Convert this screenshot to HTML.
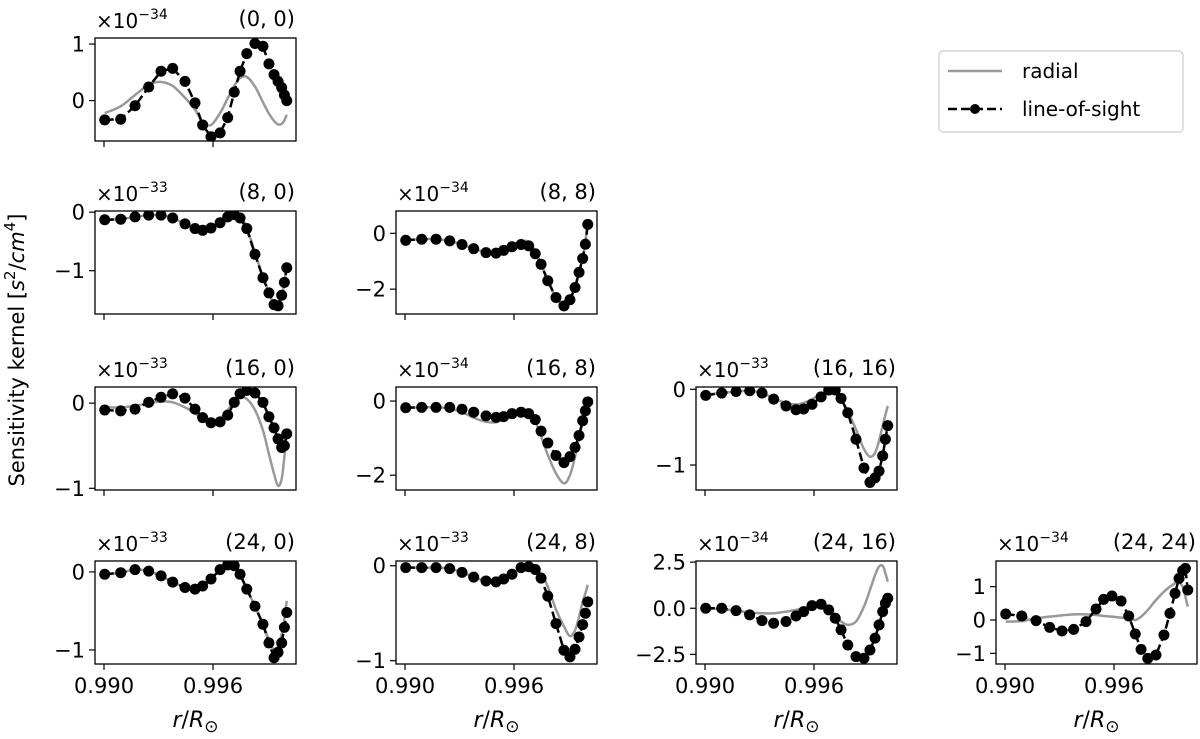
<!DOCTYPE html>
<html><head><meta charset="utf-8"><style>
html,body{margin:0;padding:0;background:#fff}
svg{display:block;font-family:"DejaVu Sans","Liberation Sans",sans-serif}
</style></head><body>
<svg id="fig" width="1200" height="739" viewBox="0 0 1200 739" xmlns="http://www.w3.org/2000/svg">
<text transform="translate(24,350) rotate(-90)" text-anchor="middle" font-size="21" fill="#000">Sensitivity kernel [<tspan font-style="italic">s</tspan><tspan font-size="15" dy="-9">2</tspan><tspan dy="9">/</tspan><tspan font-style="italic">cm</tspan><tspan font-size="15" dy="-9">4</tspan><tspan dy="9">]</tspan></text>
<g>
<rect x="939" y="51" width="244" height="81" rx="4" fill="#fff" stroke="#ccc" stroke-width="1.2"/>
<line x1="948" y1="71" x2="1002" y2="71" stroke="#999" stroke-width="2.5"/>
<text x="1022" y="78" font-size="20">radial</text>
<line x1="948" y1="109" x2="1002" y2="109" stroke="#000" stroke-width="2.5" stroke-dasharray="9,4"/>
<circle cx="975" cy="109" r="5" fill="#000"/>
<text x="1022" y="116" font-size="20">line-of-sight</text>
</g>
</svg>
<script>
// shared radius grid (r/R_sun)
const rGrid = [0.99004,0.99092,0.99171,0.99246,0.99314,0.99378,0.99446,0.99501,0.99543,0.99589,0.99639,0.99681,0.99717,0.99749,0.99786,0.99831,0.99875,0.99908,0.99936,0.99958,0.99978,0.99993,1.00006];
const xTicks = [0.990, 0.996];
const xTickLabels = ["0.990", "0.996"];
const panelTitles = ["(0, 0)","(8, 0)","(8, 8)","(16, 0)","(16, 8)","(16, 16)","(24, 0)","(24, 8)","(24, 16)","(24, 24)"];
const panelExp = ["34","33","34","33","34","33","33","33","34","34"];
const los00 = [-0.34,-0.33,-0.09,0.24,0.52,0.57,0.34,-0.04,-0.43,-0.64,-0.57,-0.3,0.15,0.52,0.83,1.01,0.96,0.65,0.46,0.34,0.23,0.1,0.0];
const rad00 = [-0.22,-0.1,0.1,0.28,0.33,0.26,0.05,-0.16,-0.38,-0.43,-0.22,0.04,0.26,0.4,0.42,0.25,-0.03,-0.23,-0.36,-0.42,-0.41,-0.35,-0.25];
const los80 = [-0.13,-0.12,-0.08,-0.05,-0.05,-0.1,-0.2,-0.28,-0.31,-0.27,-0.18,-0.08,-0.04,-0.1,-0.28,-0.72,-1.12,-1.38,-1.58,-1.6,-1.42,-1.2,-0.95];
const rad80 = [-0.13,-0.12,-0.08,-0.05,-0.05,-0.1,-0.2,-0.28,-0.31,-0.27,-0.18,-0.06,0.0,-0.06,-0.26,-0.7,-1.1,-1.38,-1.58,-1.6,-1.42,-1.2,-0.9];
const los88 = [-0.25,-0.21,-0.21,-0.27,-0.4,-0.55,-0.69,-0.71,-0.61,-0.48,-0.4,-0.45,-0.73,-1.11,-1.7,-2.3,-2.6,-2.38,-1.94,-1.4,-0.9,-0.39,0.32];
const rad88 = [-0.25,-0.21,-0.21,-0.27,-0.4,-0.55,-0.68,-0.7,-0.58,-0.42,-0.3,-0.3,-0.65,-1.1,-1.7,-2.3,-2.6,-2.38,-1.94,-1.4,-0.88,-0.3,0.45];
const los160 = [-0.08,-0.09,-0.07,0.01,0.07,0.11,0.06,-0.07,-0.17,-0.23,-0.22,-0.14,0.01,0.11,0.15,0.12,0.01,-0.16,-0.29,-0.42,-0.52,-0.5,-0.36];
const rad160 = [-0.05,-0.05,-0.03,0.0,0.02,0.01,-0.05,-0.12,-0.19,-0.22,-0.18,-0.08,0.02,0.07,0.05,-0.08,-0.32,-0.6,-0.83,-0.97,-0.89,-0.63,-0.32];
const los168 = [-0.18,-0.17,-0.17,-0.17,-0.22,-0.3,-0.4,-0.44,-0.42,-0.34,-0.3,-0.34,-0.5,-0.81,-1.13,-1.47,-1.66,-1.5,-1.25,-0.93,-0.53,-0.26,-0.02];
const rad168 = [-0.18,-0.17,-0.17,-0.2,-0.3,-0.45,-0.56,-0.57,-0.48,-0.36,-0.3,-0.33,-0.55,-0.95,-1.45,-1.95,-2.22,-2.0,-1.5,-1.0,-0.55,-0.26,-0.02];
const los1616 = [-0.08,-0.05,-0.03,-0.02,-0.05,-0.13,-0.22,-0.27,-0.26,-0.2,-0.1,-0.01,-0.01,-0.12,-0.31,-0.66,-1.04,-1.23,-1.17,-1.08,-0.88,-0.66,-0.48];
const rad1616 = [-0.07,-0.05,-0.03,-0.02,-0.05,-0.12,-0.18,-0.2,-0.18,-0.13,-0.07,-0.05,-0.06,-0.13,-0.29,-0.53,-0.79,-0.89,-0.84,-0.68,-0.48,-0.34,-0.22];
const los240 = [-0.03,-0.01,0.03,0.01,-0.05,-0.13,-0.2,-0.22,-0.18,-0.09,0.03,0.09,0.08,-0.03,-0.22,-0.44,-0.67,-0.91,-1.1,-1.03,-0.91,-0.71,-0.52];
const rad240 = [-0.03,-0.01,0.03,0.01,-0.05,-0.13,-0.2,-0.22,-0.18,-0.09,0.03,0.09,0.08,-0.03,-0.22,-0.44,-0.67,-0.88,-1.0,-0.95,-0.8,-0.6,-0.37];
const los248 = [-0.02,-0.02,-0.02,-0.03,-0.07,-0.12,-0.16,-0.17,-0.14,-0.09,-0.02,-0.01,-0.04,-0.13,-0.32,-0.61,-0.89,-0.96,-0.88,-0.75,-0.62,-0.5,-0.38];
const rad248 = [-0.02,-0.02,-0.02,-0.03,-0.07,-0.12,-0.16,-0.17,-0.14,-0.09,-0.02,-0.01,-0.04,-0.08,-0.22,-0.46,-0.64,-0.74,-0.68,-0.54,-0.38,-0.29,-0.2];
const los2416 = [0,0,-0.13,-0.36,-0.67,-0.81,-0.72,-0.42,-0.18,0.14,0.22,-0.09,-0.54,-1.17,-1.99,-2.62,-2.71,-2.26,-1.62,-0.9,-0.18,0.27,0.54];
const rad2416 = [0,-0.05,-0.13,-0.23,-0.27,-0.27,-0.18,-0.09,0,0.14,0.18,0,-0.36,-0.72,-0.9,-0.72,0.09,0.99,1.8,2.26,2.3,1.9,1.44];
const los2424 = [0.18,0.12,-0.02,-0.22,-0.33,-0.28,-0.05,0.33,0.62,0.72,0.57,0.12,-0.42,-0.88,-1.15,-1.05,-0.45,0.2,0.8,1.25,1.48,1.55,0.9];
const rad2424 = [-0.05,-0.03,0.05,0.1,0.14,0.17,0.17,0.15,0.12,0.1,0.07,0.05,0.0,0.1,0.3,0.6,0.85,1.0,1.1,1.12,1.0,0.7,0.4];
const yTicks00 = [0,1], yTicks80 = [-1,0], yTicks88 = [-2,0], yTicks160 = [-1,0], yTicks168 = [-2,0], yTicks1616 = [-1,0], yTicks240 = [-1,0], yTicks248 = [-1,0], yTicks2416 = [-2.5,0,2.5], yTicks2424 = [-1,0,1];

const NS = "http://www.w3.org/2000/svg";
const svg = document.getElementById("fig");
function mk(tag, attrs, parent){const e=document.createElementNS(NS,tag);for(const k in attrs)e.setAttribute(k,attrs[k]);(parent||svg).appendChild(e);return e;}
const colX=[95,396,696,996], rowY=[38,211,387,561], W=201, H=103;
const panels = [
 {row:0,col:0,los:los00,rad:rad00,lim:[-0.714,1.107],ticks:yTicks00,fmt:v=>String(v)},
 {row:1,col:0,los:los80,rad:rad80,lim:[-1.74,0.02],ticks:yTicks80,fmt:v=>String(v)},
 {row:1,col:1,los:los88,rad:rad88,lim:[-2.89,0.8],ticks:yTicks88,fmt:v=>String(v)},
 {row:2,col:0,los:los160,rad:rad160,lim:[-1.02,0.19],ticks:yTicks160,fmt:v=>String(v)},
 {row:2,col:1,los:los168,rad:rad168,lim:[-2.4,0.38],ticks:yTicks168,fmt:v=>String(v)},
 {row:2,col:2,los:los1616,rad:rad1616,lim:[-1.33,0.03],ticks:yTicks1616,fmt:v=>String(v)},
 {row:3,col:0,los:los240,rad:rad240,lim:[-1.18,0.14],ticks:yTicks240,fmt:v=>String(v)},
 {row:3,col:1,los:los248,rad:rad248,lim:[-1.035,0.05],ticks:yTicks248,fmt:v=>String(v)},
 {row:3,col:2,los:los2416,rad:rad2416,lim:[-3.02,2.56],ticks:yTicks2416,fmt:v=>v.toFixed(1)},
 {row:3,col:3,los:los2424,rad:rad2424,lim:[-1.32,1.77],ticks:yTicks2424,fmt:v=>String(v)}
];
function minusFix(s){return s.replace("-","\u2212");}
function smoothPath(pts){
  let d="M"+pts[0][0].toFixed(2)+","+pts[0][1].toFixed(2);
  for(let i=0;i<pts.length-1;i++){
    const p0=pts[Math.max(i-1,0)],p1=pts[i],p2=pts[i+1],p3=pts[Math.min(i+2,pts.length-1)];
    const c1=[p1[0]+(p2[0]-p0[0])/6,p1[1]+(p2[1]-p0[1])/6];
    const c2=[p2[0]-(p3[0]-p1[0])/6,p2[1]-(p3[1]-p1[1])/6];
    d+=" C"+c1[0].toFixed(2)+","+c1[1].toFixed(2)+" "+c2[0].toFixed(2)+","+c2[1].toFixed(2)+" "+p2[0].toFixed(2)+","+p2[1].toFixed(2);
  }
  return d;
}
panels.forEach((p,idx)=>{
  const L=colX[p.col], T=rowY[p.row];
  const xs=r=>L+9+(r-0.990)*109/0.006;
  const ys=v=>T+H-(v-p.lim[0])/(p.lim[1]-p.lim[0])*H;
  const g=mk("g",{});
  
  
  const cp=mk("clipPath",{id:"cp"+idx},g);
  mk("rect",{x:L,y:T,width:W,height:H},cp);
  const rp=mk("path",{d:smoothPath(rGrid.map((r,i)=>[xs(r),ys(p.rad[i])])),fill:"none",stroke:"#999","stroke-width":2.5,"clip-path":"url(#cp"+idx+")"},g);
  
  
  const lp=mk("polyline",{points:rGrid.map((r,i)=>xs(r).toFixed(2)+","+ys(p.los[i]).toFixed(2)).join(" "),fill:"none",stroke:"#000","stroke-width":2.5,"stroke-dasharray":"9,4","clip-path":"url(#cp"+idx+")"},g);
  
  
  rGrid.forEach((r,i)=>{
    const c=mk("circle",{cx:xs(r).toFixed(2),cy:ys(p.los[i]).toFixed(2),r:5.5,fill:"#000","clip-path":"url(#cp"+idx+")"},g);
    
    
  });
  const fr=mk("rect",{x:L,y:T,width:W,height:H,fill:"none",stroke:"#000","stroke-width":1.3},g);
  
  
  p.ticks.forEach(v=>{
    const y=ys(v);
    mk("line",{x1:L-6,y1:y,x2:L,y2:y,stroke:"#000","stroke-width":1.2},g);
    const t=mk("text",{x:L-10,y:y+7.5,"text-anchor":"end","font-size":21},g);
    t.textContent=minusFix(p.fmt(v));
    
    
  });
  xTicks.forEach((xv,k)=>{
    const x=xs(xv);
    mk("line",{x1:x,y1:T+H,x2:x,y2:T+H+6,stroke:"#000","stroke-width":1.2},g);
    if(p.row===3){
      const t=mk("text",{x:x,y:T+H+29,"text-anchor":"middle","font-size":21},g);
      t.textContent=xTickLabels[k];
      
      
    }
  });
  if(p.row===3){
    const t=mk("text",{x:L+W/2,y:T+H+63,"text-anchor":"middle","font-size":22},g);
    t.innerHTML='<tspan font-style="italic">r</tspan>/<tspan font-style="italic">R</tspan><tspan font-size="17" dy="5">\u2299</tspan>';
    
    
  }
  const o=mk("text",{x:L+1,y:T-10,"font-size":20},g);
  o.innerHTML='\u00d710<tspan font-size="14" dy="-9">\u2212'+panelExp[idx]+'</tspan>';
  
  
  const ti=mk("text",{x:L+W-1,y:T-12,"text-anchor":"end","font-size":21},g);
  ti.textContent=panelTitles[idx];
  
  
});
</script>
</body></html>
